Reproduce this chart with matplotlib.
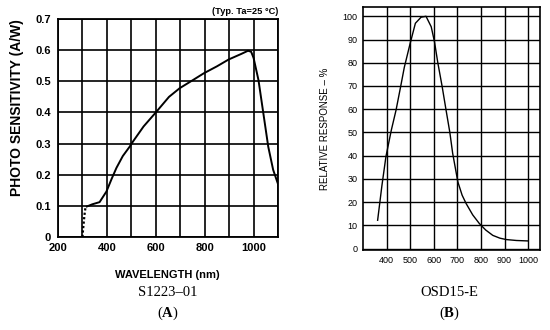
import matplotlib
matplotlib.use("Agg")
import matplotlib.pyplot as plt

plt.rcParams["mathtext.fontset"] = "custom"
plt.rcParams["mathtext.rm"] = "Liberation Serif"
plt.rcParams["mathtext.bf"] = "Liberation Serif:bold"

# S1223-01 photo sensitivity (A/W)
a_dot_wl = [300, 302, 305, 308, 312]
a_dot_s = [0.0, 0.02, 0.045, 0.07, 0.093]
a_wl = [318, 340, 370, 398, 420, 439, 465, 493, 507, 550, 600, 654, 698, 750, 797, 850, 898, 950, 977,
        990, 1000, 1020, 1040, 1060, 1080, 1100]
a_s = [0.098, 0.105, 0.112, 0.146, 0.188, 0.222, 0.26, 0.29, 0.307, 0.355, 0.4, 0.45, 0.478, 0.503, 0.526,
       0.548, 0.57, 0.588, 0.598, 0.595, 0.575, 0.504, 0.397, 0.29, 0.216, 0.17]

# OSD15-E relative response (%)
b_wl = [362, 380, 397, 420, 440, 460, 475, 499, 522, 546, 567, 589, 603, 617, 635, 652, 668,
        680, 702, 720, 737, 765, 793, 820, 850, 880, 907, 950, 1000]
b_r = [12.2, 27, 39.5, 51, 59.6, 70, 78, 88, 97, 99.6, 100, 95.5, 89, 80, 70, 59.6, 50,
       41, 28.7, 23, 19.4, 14.5, 10.8, 8, 5.7, 4.5, 3.9, 3.5, 3.3]

fig = plt.figure(figsize=(5.5, 3.3), dpi=100)
sans = ["Liberation Sans", "DejaVu Sans"]
serif = ["Liberation Serif", "DejaVu Serif"]

# panel A
ax1 = fig.add_axes([0.1055, 0.2818, 0.40, 0.6606])
ax1.plot(a_wl, a_s, color="black", lw=1.4)
ax1.plot(a_dot_wl, a_dot_s, color="black", lw=1.6, linestyle=(0, (1, 1)))
ax1.set_xlim(200, 1100)
ax1.set_ylim(0, 0.7)
ax1.set_xticks(range(200, 1101, 100))
ax1.set_xticklabels(["200", "", "400", "", "600", "", "800", "", "1000", ""])
ax1.set_yticks([0, 0.1, 0.2, 0.3, 0.4, 0.5, 0.6, 0.7])
ax1.set_yticklabels(["0", "0.1", "0.2", "0.3", "0.4", "0.5", "0.6", "0.7"])
ax1.grid(True, color="black", lw=1.2)
ax1.tick_params(axis="x", length=0, pad=4, labelsize=8)
ax1.tick_params(axis="y", length=0, pad=5, labelsize=8)
for lab in ax1.get_xticklabels() + ax1.get_yticklabels():
    lab.set_fontweight("bold")
    lab.set_family(sans)
for s in ax1.spines.values():
    s.set_linewidth(1.3)
ax1.set_ylabel("PHOTO SENSITIVITY (A/W)", fontsize=10, fontweight="bold", family=sans)
ax1.yaxis.set_label_coords(-0.155, 0.595)
ax1.text(1.0, 1.015, "(Typ. Ta=25 \u00b0C)", transform=ax1.transAxes, ha="right", va="bottom",
         fontsize=6.7, fontweight="bold", family=sans)
fig.text(0.305, 0.168, "WAVELENGTH (nm)", ha="center", va="center", fontsize=8,
         fontweight="bold", family=sans)
fig.text(0.305, 0.113, "S1223\u201301", ha="center", va="center", fontsize=10.5, family=serif)
fig.text(0.305, 0.052, r"($\mathbf{A}$)", ha="center", va="center", fontsize=10.5, family=serif)

# panel B
ax2 = fig.add_axes([0.66, 0.2424, 0.3218, 0.7364])
ax2.plot(b_wl, b_r, color="black", lw=1.0)
ax2.set_xlim(300, 1050)
ax2.set_ylim(-0.6, 104)
ax2.set_xticks(range(400, 1001, 100))
ax2.set_yticks(range(0, 101, 10))
ax2.grid(True, color="black", lw=1.0)
ax2.tick_params(length=0, pad=4, labelsize=6.5)
for lab in ax2.get_xticklabels() + ax2.get_yticklabels():
    lab.set_family(sans)
for s in ax2.spines.values():
    s.set_linewidth(1.2)
ax2.set_ylabel("RELATIVE RESPONSE \u2013 %", fontsize=7, family=sans, labelpad=9)
fig.text(0.8175, 0.113, "OSD15-E", ha="center", va="center", fontsize=10.5, family=serif)
fig.text(0.8175, 0.052, r"($\mathbf{B}$)", ha="center", va="center", fontsize=10.5, family=serif)

fig.savefig("out.png", dpi=100)
